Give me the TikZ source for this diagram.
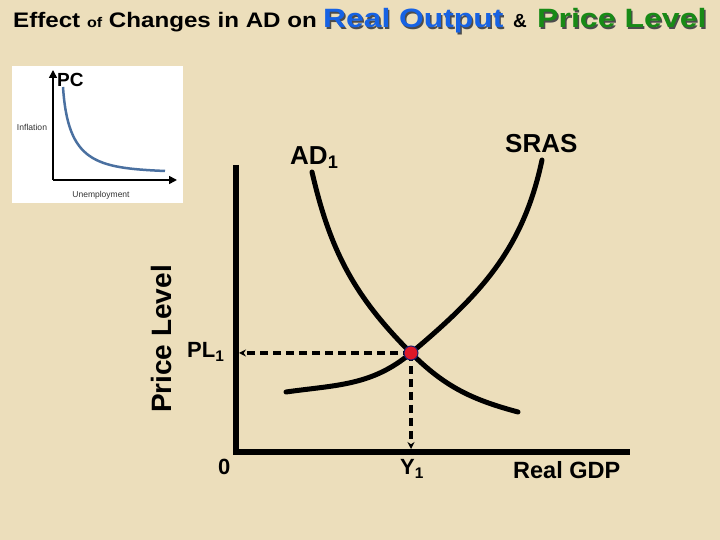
\documentclass[tikz,border=0pt]{standalone}
\usepackage{fontspec}
\setmainfont{Liberation Sans}
\usepackage{graphicx}
\usetikzlibrary{arrows.meta}

\definecolor{parchment}{RGB}{236,222,187}
\definecolor{outputblue}{RGB}{22,98,228}
\definecolor{levelgreen}{RGB}{24,138,22}
\definecolor{pcblue}{RGB}{74,112,160}
\definecolor{dotred}{RGB}{222,24,40}
\definecolor{dotedge}{RGB}{30,30,110}

\newcommand{\shadowed}[2]{\makebox[0pt][l]{\hspace{1.2pt}\raisebox{-1.2pt}{\color{black!70}#2}}\textcolor{#1}{#2}}
\newcommand{\fs}[1]{\fontsize{#1}{#1}\selectfont}

\begin{document}
\begin{tikzpicture}[x=1pt,y=1pt,
  axis/.style={line width=6pt, line join=miter},
  curve/.style={line width=5pt, line cap=round},
  guide/.style={line width=3.2pt, dash pattern=on 8pt off 5pt, -{Stealth[length=7pt,width=7pt]}},
  lbl/.style={inner sep=0pt, anchor=base west, font=\fs{24}\bfseries}]
\useasboundingbox (0,0) rectangle (720,540);
\fill[parchment] (0,0) rectangle (720,540);

% title
\node[inner sep=0pt, anchor=base west] (t1) at (13,512) {\scalebox{1.15}[1]{\fs{21}\bfseries Effect {\fs{14}of} Changes in AD on}};
\node[inner sep=0pt, anchor=base west] (t2) at (323,512) {\scalebox{1.2}[1]{\fs{26.5}\bfseries\shadowed{outputblue}{Real Output}}};
\node[inner sep=0pt, anchor=base west] (t3) at (513,512) {\fs{19}\bfseries\&};
\node[inner sep=0pt, anchor=base west] (t4) at (537,512) {\scalebox{1.21}[1]{\fs{26.5}\bfseries\shadowed{levelgreen}{Price Level}}};

% phillips curve inset
\fill[white] (12,337) rectangle (183,474);
\draw[line width=1.6pt, -{Triangle[length=8pt,width=8pt]}] (53,360) -- (177,360);
\draw[line width=1.6pt, -{Triangle[length=8pt,width=8pt]}] (53,360) -- (53,470);
\draw[pcblue, line width=2.5pt] (63,453) .. controls (68,378) and (95,372) .. (165,369);
\node[inner sep=0pt, text=black!80, font=\fs{8.6}] (infl) at (32,413) {Inflation};
\node[inner sep=0pt, text=black!80, font=\fs{8.5}] (unemp) at (101,345) {Unemployment};
\node[inner sep=0pt, anchor=base west, font=\fs{19}\bfseries] (pc) at (57,453) {PC};

% axes
\draw[axis] (236,375) -- (236,88) -- (630,88);
\node[inner sep=0pt, rotate=90, font=\fs{28}\bfseries] (plev) at (161,201) {Price Level};

% curves
\coordinate (eq) at (411,187);
\draw[curve] (312,368) to[out=-77,in=135] (eq) to[out=-45,in=165] (518,128);
\draw[curve] (286,148) to[out=8,in=-140] (eq) to[out=40,in=-102] (542,380);

% guides
\coordinate (plaxis) at (239,187);
\coordinate (yaxis) at (411,91);
\draw[guide] (eq) -- (plaxis);
\draw[guide] (eq) -- (yaxis);
\fill[dotred, draw=dotedge, line width=1pt] (eq) circle (7pt);

% labels
\node[lbl, font=\fs{26}\bfseries] (ad) at (290,375) {AD\textsubscript{1}};
\node[lbl, font=\fs{26}\bfseries] (sras) at (505,387) {SRAS};
\node[lbl, font=\fs{22}\bfseries] (pl) at (187,182) {PL\textsubscript{1}};
\node[lbl, font=\fs{22}\bfseries] (zero) at (218,65) {0};
\node[lbl, font=\fs{22}\bfseries] (y1) at (400,65) {Y\textsubscript{1}};
\node[lbl, font=\fs{23.5}\bfseries] (gdp) at (513,61) {Real GDP};
\end{tikzpicture}
\end{document}
